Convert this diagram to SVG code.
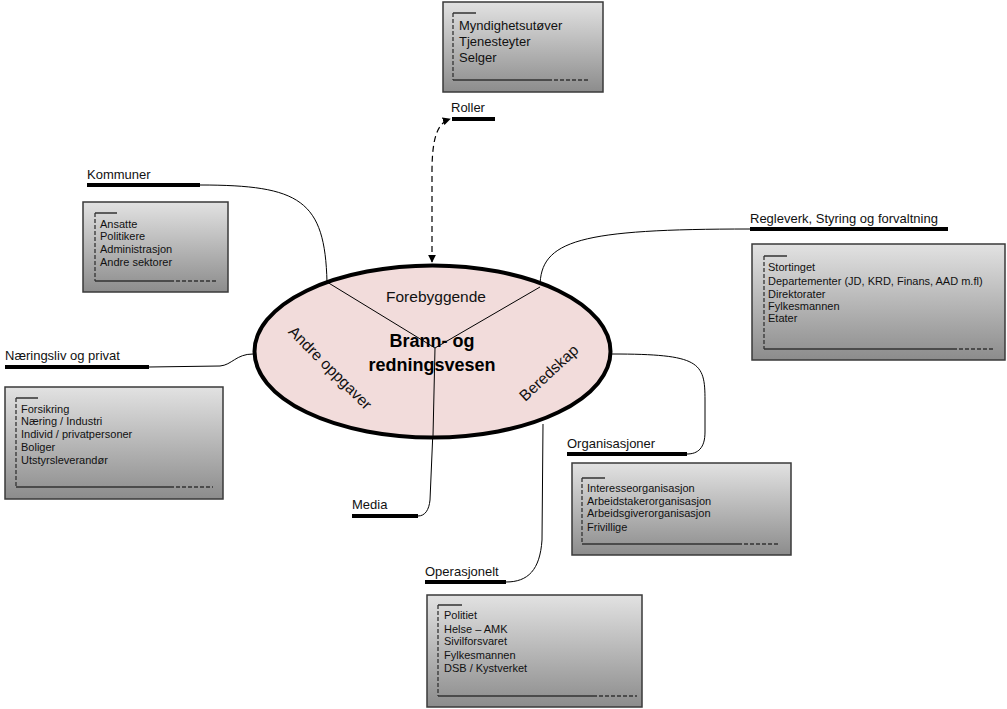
<svg xmlns="http://www.w3.org/2000/svg" width="1007" height="709" viewBox="0 0 1007 709">
<defs>
<linearGradient id="boxg" x1="0" y1="0" x2="0" y2="1">
<stop offset="0" stop-color="#e2e2e2"/>
<stop offset="1" stop-color="#8c8c8c"/>
</linearGradient>
<marker id="ah" viewBox="0 0 10 10" refX="9" refY="5" markerWidth="8" markerHeight="8" markerUnits="userSpaceOnUse" orient="auto-start-reverse">
<path d="M0,0 L10,5 L0,10 z" fill="#000"/>
</marker>
<style>
.box{fill:url(#boxg);stroke:#3a3a3a;stroke-width:1.5}
.br{fill:none;stroke:#333;stroke-width:1.3}
.dash{fill:none;stroke:#333;stroke-width:1.3;stroke-dasharray:4,2}
.t11{font-family:"Liberation Sans",Arial,sans-serif;font-size:11px;fill:#111}
.t13{font-family:"Liberation Sans",Arial,sans-serif;font-size:13px;fill:#111}
.lab{font-family:"Liberation Sans",Arial,sans-serif;font-size:13px;fill:#111}
.bar{stroke:#000;stroke-width:4}
.con{fill:none;stroke:#000;stroke-width:1}
.seg{font-family:"Liberation Sans",Arial,sans-serif;font-size:15.5px;fill:#111}
.title{font-family:"Liberation Sans",Arial,sans-serif;font-size:18px;font-weight:bold;fill:#000}
</style>
</defs>

<g id="connectors">
<path class="con" d="M200,185 C300,185 325,200 327,282"/>
<path class="con" d="M540,287 C540,240 580,229 750,229"/>
<path class="con" d="M149,367 L220,366 C232,365 236,354 253,354"/>
<path class="con" d="M612,354 C700,354 705,362 705,400 L705,432 C705,448 698,454 687,454"/>
<path class="con" d="M543,424 L542,540 C540,570 528,582 506,582"/>
<path class="con" d="M433,430 L430,500 C429,510 425,516 418,516"/>
<path d="M432,262 L432,172 C432,136 438,123 450,119" fill="none" stroke="#000" stroke-width="1.2" stroke-dasharray="6,4" marker-start="url(#ah)" marker-end="url(#ah)"/>
</g>

<g id="center">
<ellipse cx="432.5" cy="351.5" rx="178" ry="86" fill="#f2dcdb" stroke="#000" stroke-width="4"/>
<path d="M327,282 L435,348 L540,287 M435,348 L433,436" fill="none" stroke="#000" stroke-width="1"/>
<text class="seg" x="436" y="302" text-anchor="middle">Forebyggende</text>
<text class="title" x="432" y="347" text-anchor="middle">Brann- og</text>
<text class="title" x="432" y="371" text-anchor="middle">redningsvesen</text>
<text class="seg" transform="translate(330,368) rotate(45)" text-anchor="middle" dy="5">Andre oppgaver</text>
<text class="seg" transform="translate(549,373) rotate(-43)" text-anchor="middle" dy="5">Beredskap</text>
</g>

<g id="roller">
<rect class="box" x="443" y="2" width="160" height="90"/>
<path class="br" d="M453,13 L476,13 M453,80 L548,80"/>
<path class="dash" d="M453,13 L453,80 M548,80 L590,80"/>
<text class="t13" x="459" y="30">Myndighetsutøver</text>
<text class="t13" x="459" y="46">Tjenesteyter</text>
<text class="t13" x="459" y="62">Selger</text>
<text class="lab" x="451" y="112">Roller</text>
<line class="bar" x1="452" y1="119" x2="495" y2="119"/>
</g>

<g id="kommuner">
<text class="lab" x="87" y="179">Kommuner</text>
<line class="bar" x1="87" y1="185" x2="200" y2="185"/>
<rect class="box" x="83" y="202" width="145" height="90"/>
<path class="br" d="M95,213 L117,213 M95,281 L170,281"/>
<path class="dash" d="M95,213 L95,281 M170,281 L217,281"/>
<text class="t11" x="100" y="228">Ansatte</text>
<text class="t11" x="100" y="240">Politikere</text>
<text class="t11" x="100" y="253">Administrasjon</text>
<text class="t11" x="100" y="266">Andre sektorer</text>
</g>

<g id="regelverk">
<text class="lab" x="750" y="223">Regleverk, Styring og forvaltning</text>
<line class="bar" x1="750" y1="229" x2="948" y2="229"/>
<rect class="box" x="752" y="244" width="253" height="116"/>
<path class="br" d="M764,256 L787,256 M764,349 L953,349"/>
<path class="dash" d="M764,256 L764,349 M953,349 L995,349"/>
<text class="t11" x="768" y="271">Stortinget</text>
<text class="t11" x="768" y="285">Departementer (JD, KRD, Finans, AAD m.fl)</text>
<text class="t11" x="768" y="298">Direktorater</text>
<text class="t11" x="768" y="310">Fylkesmannen</text>
<text class="t11" x="768" y="322">Etater</text>
</g>

<g id="naeringsliv">
<text class="lab" x="5" y="360">Næringsliv og privat</text>
<line class="bar" x1="5" y1="367" x2="149" y2="367"/>
<rect class="box" x="5" y="387" width="218" height="112"/>
<path class="br" d="M16,398 L38,398 M16,487 L170,487"/>
<path class="dash" d="M16,398 L16,487 M170,487 L213,487"/>
<text class="t11" x="21" y="413">Forsikring</text>
<text class="t11" x="21" y="425">Næring / Industri</text>
<text class="t11" x="21" y="438">Individ / privatpersoner</text>
<text class="t11" x="21" y="451">Boliger</text>
<text class="t11" x="21" y="464">Utstyrsleverandør</text>
</g>

<g id="organisasjoner">
<text class="lab" x="567" y="448">Organisasjoner</text>
<line class="bar" x1="567" y1="454" x2="687" y2="454"/>
<rect class="box" x="572" y="463" width="219" height="92"/>
<path class="br" d="M582,478 L605,478 M582,544 L738,544"/>
<path class="dash" d="M582,478 L582,544 M738,544 L780,544"/>
<text class="t11" x="587" y="492">Interesseorganisasjon</text>
<text class="t11" x="587" y="505">Arbeidstakerorganisasjon</text>
<text class="t11" x="587" y="517">Arbeidsgiverorganisasjon</text>
<text class="t11" x="587" y="531">Frivillige</text>
</g>

<g id="operasjonelt">
<text class="lab" x="425" y="576">Operasjonelt</text>
<line class="bar" x1="425" y1="582" x2="506" y2="582"/>
<rect class="box" x="427" y="595" width="215" height="112"/>
<path class="br" d="M438,605 L462,605 M438,696 L593,696"/>
<path class="dash" d="M438,605 L438,696 M593,696 L637,696"/>
<text class="t11" x="444" y="619">Politiet</text>
<text class="t11" x="444" y="633">Helse – AMK</text>
<text class="t11" x="444" y="645">Sivilforsvaret</text>
<text class="t11" x="444" y="659">Fylkesmannen</text>
<text class="t11" x="444" y="672">DSB / Kystverket</text>
</g>

<g id="media">
<text class="lab" x="352" y="509">Media</text>
<line class="bar" x1="352" y1="516" x2="418" y2="516"/>
</g>
</svg>
